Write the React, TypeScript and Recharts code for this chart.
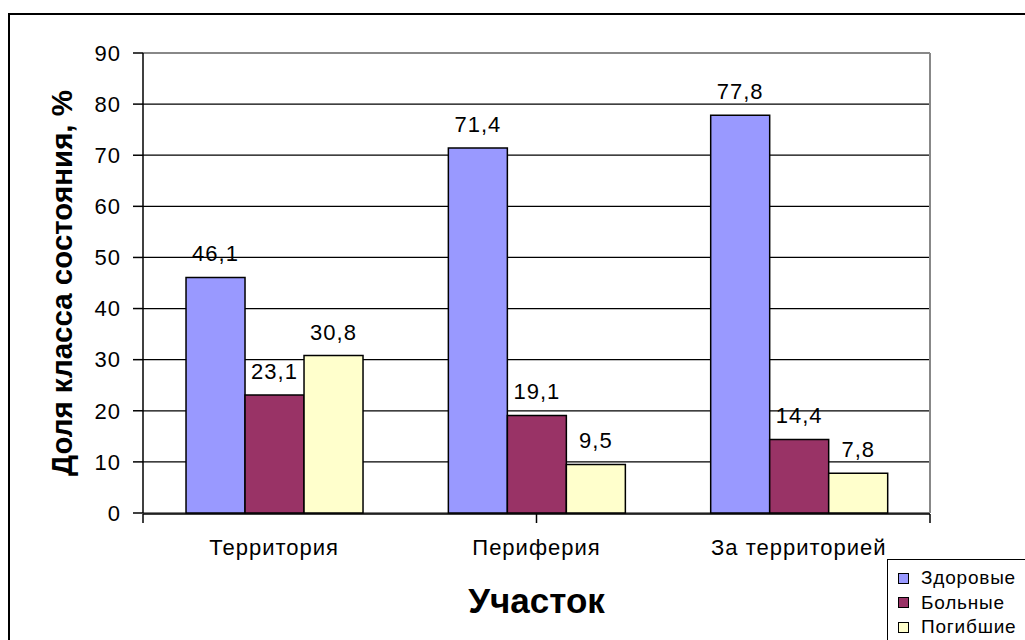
import React from "react";
import { BarChart, Bar, XAxis, YAxis, CartesianGrid, LabelList, Label, Legend } from "recharts";

const categories = ["Территория", "Периферия", "За территорией"];
const healthy = [46.1, 71.4, 77.8];
const sick = [23.1, 19.1, 14.4];
const dead = [30.8, 9.5, 7.8];
const yTicks = [0, 10, 20, 30, 40, 50, 60, 70, 80, 90];
const boundaryTicks = [0, 1, 2, 3];

const seriesNames = ["Здоровые", "Больные", "Погибшие"];
const seriesKeys = ["healthy", "sick", "dead"];
const seriesColors = ["#9999FF", "#993366", "#FFFFCC"];

const data = categories.map((c, i) => ({
  cat: c,
  healthy: healthy[i],
  sick: sick[i],
  dead: dead[i],
}));

const FONT = "'Liberation Sans', Arial, sans-serif";
const fmt = (v: any) => String(v).replace(".", ",");

const LegendContent = () => (
  <div
    style={{
      border: "1px solid #000",
      background: "#fff",
      width: 200,
      height: 120,
      boxSizing: "border-box",
      paddingTop: 6,
      paddingLeft: 10,
      fontFamily: FONT,
      fontSize: 19,
      color: "#000",
    }}
  >
    {seriesNames.map((n, i) => (
      <div key={n} style={{ display: "flex", alignItems: "center", height: 24.5 }}>
        <span
          style={{
            display: "inline-block",
            width: 9,
            height: 9,
            border: "1px solid #000",
            background: seriesColors[i],
            marginRight: 12,
          }}
        />
        <span style={{ letterSpacing: 0.8 }}>{n}</span>
      </div>
    ))}
  </div>
);

const YTitle = (props: any) => {
  const vb = props.viewBox || { x: 0, y: 0, width: 0, height: 0 };
  const cx = vb.x + 72;
  const cy = vb.y + vb.height / 2;
  return (
    <text
      x={0}
      y={0}
      transform={`translate(${cx}, ${cy}) rotate(-90)`}
      textAnchor="middle"
      fontFamily={FONT}
      fontWeight="bold"
      fontSize={29.5}
      fill="#000"
    >
      Доля класса состояния, %
    </text>
  );
};

export default function App() {
  return (
    <div
      style={{
        position: "fixed",
        left: 0,
        top: 0,
        width: 1025,
        height: 640,
        overflow: "hidden",
        background: "#fff",
      }}
    >
      <div
        style={{
          position: "absolute",
          left: 8,
          top: 13,
          width: 1100,
          height: 700,
          border: "2px solid #000",
          boxSizing: "border-box",
        }}
      />
      <div style={{ position: "absolute", left: 0, top: 0 }}>
        <BarChart
          width={1025}
          height={640}
          data={data}
          margin={{ top: 0, right: 0, bottom: 0, left: 0 }}
          barCategoryGap="16.4%"
          barGap={0}
        >
          <CartesianGrid horizontal vertical={false} stroke="#000" strokeWidth={1.2} />
          <XAxis
            xAxisId="top"
            orientation="top"
            type="number"
            domain={[0, 1]}
            height={53}
            tick={false}
            tickLine={false}
            axisLine={{ stroke: "#888", strokeWidth: 2 }}
          />
          <YAxis
            yAxisId="r"
            orientation="right"
            type="number"
            domain={[0, 1]}
            width={95}
            tick={false}
            tickLine={false}
            axisLine={{ stroke: "#888", strokeWidth: 2 }}
          />
          <XAxis
            dataKey="cat"
            height={1}
            axisLine={false}
            tickLine={false}
            tickSize={0}
            tickMargin={26}
            interval={0}
            tick={{ fill: "#000", fontSize: 22, fontFamily: FONT, letterSpacing: 1 }}
          />
          <XAxis
            xAxisId="b"
            type="number"
            domain={[0, 3]}
            ticks={boundaryTicks}
            interval={0}
            height={126}
            tickFormatter={() => ""}
            tickSize={9}
            tickLine={{ stroke: "#000", strokeWidth: 1.5 }}
            axisLine={{ stroke: "#000", strokeWidth: 1.5 }}
          >
            <Label
              value="Участок"
              position="insideBottom"
              offset={27}
              fill="#000"
              fontSize={35}
              fontWeight="bold"
              fontFamily={FONT}
            />
          </XAxis>
          <YAxis
            width={143}
            domain={[0, 90]}
            ticks={yTicks}
            interval={0}
            tickSize={10}
            tickMargin={12}
            axisLine={{ stroke: "#000", strokeWidth: 1.5 }}
            tickLine={{ stroke: "#000", strokeWidth: 1.5 }}
            tick={{ fill: "#000", fontSize: 22, fontFamily: FONT, letterSpacing: 1 }}
          >
            <Label content={<YTitle />} />
          </YAxis>
          <Legend
            layout="horizontal"
            verticalAlign="middle"
            align="center"
            content={<LegendContent />}
            wrapperStyle={{ position: "absolute", left: 887, top: 559, width: 200, height: 120 }}
          />
          {seriesKeys.map((k, i) => (
            <Bar
              key={k}
              dataKey={k}
              name={seriesNames[i]}
              fill={seriesColors[i]}
              stroke="#000"
              strokeWidth={1.5}
              isAnimationActive={false}
            >
              <LabelList
                dataKey={k}
                position="top"
                offset={16}
                formatter={fmt}
                fill="#000"
                fontSize={22}
                fontFamily={FONT}
                letterSpacing={1}
              />
            </Bar>
          ))}
        </BarChart>
      </div>
    </div>
  );
}
